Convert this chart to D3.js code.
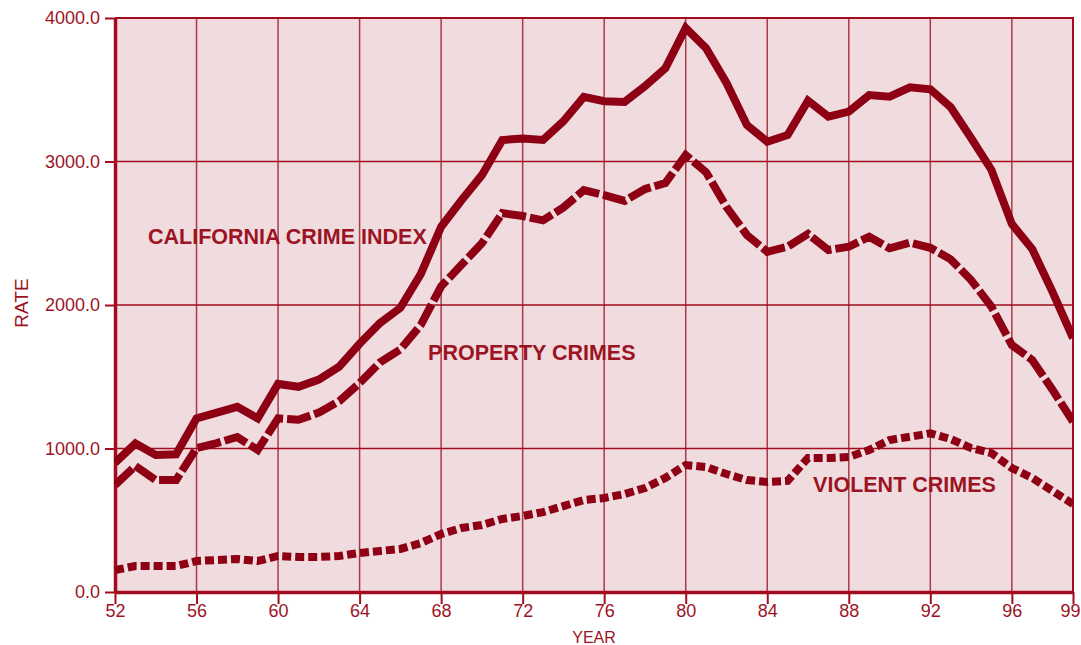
<!DOCTYPE html>
<html>
<head>
<meta charset="utf-8">
<script src="https://cdn.jsdelivr.net/npm/d3@7"></script>
<style>
  body { margin: 0; background: #fff; }
  svg { display: block; font-family: "Liberation Sans", Arial, sans-serif; }
</style>
</head>
<body>
<svg id="chart" viewBox="0 0 1081 645" width="1081" height="645"></svg>
<script>
// years 1952..1999
const years = d3.range(52, 100);

const crimeIndex = [900, 1035, 955, 960, 1210, 1250, 1290, 1210, 1450, 1430,
  1480, 1570, 1730, 1875, 1980, 2215, 2545, 2730, 2905, 3150,
  3160, 3150, 3280, 3450, 3420, 3415, 3525, 3650, 3930, 3790,
  3547, 3254, 3138, 3185, 3424, 3312, 3347, 3463, 3452, 3517,
  3503, 3378, 3164, 2941, 2564, 2390, 2090, 1770];

const propertyCrimes = [745, 878, 780, 780, 1003, 1038, 1080, 990, 1210, 1200,
  1250, 1330, 1456, 1600, 1690, 1860, 2130, 2280, 2430, 2640,
  2620, 2590, 2680, 2800, 2766, 2725, 2808, 2850, 3045, 2925,
  2683, 2488, 2371, 2406, 2495, 2383, 2406, 2476, 2395, 2434,
  2399, 2318, 2174, 1988, 1721, 1617, 1408, 1187];

const violentCrimes = [153, 181, 181, 181, 216, 223, 230, 216, 251, 244,
  244, 251, 272, 286, 300, 341, 404, 446, 467, 509,
  530, 557, 599, 641, 655, 683, 725, 795, 885, 871,
  822, 780, 767, 774, 934, 934, 940, 990, 1059, 1082,
  1106, 1066, 1003, 968, 864, 795, 704, 613];

const xTicks = [52, 56, 60, 64, 68, 72, 76, 80, 84, 88, 92, 96, 99];
const yTicks = [0, 1000, 2000, 3000, 4000];

const seriesLabels = [
  { text: "CALIFORNIA CRIME INDEX", year: 53.62, value: 2425 },
  { text: "PROPERTY CRIMES", year: 67.36, value: 1617 },
  { text: "VIOLENT CRIMES", year: 86.25, value: 697 }
];

const red = "#8e0013";
const textRed = "#9c1424";

const svg = d3.select("#chart");
const margin = { left: 115, right: 8, top: 18, bottom: 53 };
const W = 1081, H = 645;

const x = d3.scaleLinear().domain([52, 99]).range([margin.left, W - margin.right]);
const y = d3.scaleLinear().domain([0, 4000]).range([H - margin.bottom, margin.top]);

// plot background
svg.append("rect")
  .attr("x", x(52)).attr("y", y(4000))
  .attr("width", x(99) - x(52)).attr("height", y(0) - y(4000))
  .attr("fill", "#f0dcde");

// grid
svg.append("g")
  .selectAll("line")
  .data(xTicks.slice(1, -1))
  .join("line")
  .attr("x1", d => x(d)).attr("x2", d => x(d))
  .attr("y1", y(0)).attr("y2", y(4000))
  .attr("stroke", "#aa3a4a").attr("stroke-width", 1.5);

svg.append("g")
  .selectAll("line")
  .data(yTicks.slice(1, -1))
  .join("line")
  .attr("x1", x(52)).attr("x2", x(99))
  .attr("y1", d => y(d)).attr("y2", d => y(d))
  .attr("stroke", "#a20c1e").attr("stroke-width", 1.5);

// top and right border
svg.append("path")
  .attr("d", `M${x(52)},${y(4000)}H${x(99)}V${y(0)}`)
  .attr("fill", "none").attr("stroke", "#a20c1e").attr("stroke-width", 2);

// axes
const xAxis = svg.append("g")
  .attr("transform", `translate(0,${y(0)})`)
  .call(d3.axisBottom(x).tickValues(xTicks).tickFormat(d => d).tickSize(12).tickSizeOuter(0));
const yAxis = svg.append("g")
  .attr("transform", `translate(${x(52)},0)`)
  .call(d3.axisLeft(y).tickValues(yTicks).tickFormat(d3.format(".1f")).tickSize(10).tickSizeOuter(0));

[xAxis, yAxis].forEach(a => {
  a.select(".domain").attr("stroke", "#a20c1e").attr("stroke-width", 3.5);
  a.selectAll(".tick line").attr("stroke", "#a20c1e").attr("stroke-width", 2);
  a.selectAll(".tick text").attr("fill", textRed)
    .style("font-size", "18px").style("font-family", "'Liberation Sans', Arial, sans-serif");
});
xAxis.selectAll(".tick text").attr("dy", "0.85em").attr("y", 10);
// keep the last label inside the page
xAxis.selectAll(".tick text").filter(d => d === 99).attr("dx", -3);
yAxis.selectAll(".tick text").attr("x", -15);

// axis titles
svg.append("text")
  .attr("x", x(75.5)).attr("y", 643)
  .attr("text-anchor", "middle").attr("fill", textRed)
  .style("font-size", "16px").text("YEAR");
svg.append("text")
  .attr("transform", `translate(28,${y(2000) - 2}) rotate(-90)`)
  .attr("text-anchor", "middle").attr("fill", textRed)
  .style("font-size", "19px").text("RATE");

// lines
const line = d3.line().x((d, i) => x(years[i])).y(d => y(d));

svg.append("clipPath").attr("id", "plotclip")
  .append("rect")
  .attr("x", x(52) - 1).attr("y", 0)
  .attr("width", x(99) - x(52) + 2).attr("height", y(0) + 1);

const lines = svg.append("g").attr("clip-path", "url(#plotclip)");

lines.append("path")
  .datum(violentCrimes)
  .attr("d", line)
  .attr("fill", "none").attr("stroke", red)
  .attr("stroke-width", 8).attr("stroke-dasharray", "9 4");

lines.append("path")
  .datum(propertyCrimes)
  .attr("d", line)
  .attr("fill", "none").attr("stroke", red)
  .attr("stroke-width", 8).attr("stroke-dasharray", "24 4")
  .attr("stroke-linejoin", "miter");

lines.append("path")
  .datum(crimeIndex)
  .attr("d", line)
  .attr("fill", "none").attr("stroke", red)
  .attr("stroke-width", 8).attr("stroke-linejoin", "miter");

// series labels
svg.append("g")
  .selectAll("text")
  .data(seriesLabels)
  .join("text")
  .attr("x", d => x(d.year)).attr("y", d => y(d.value))
  .attr("fill", textRed)
  .style("font-size", "21.5px").style("font-weight", "bold")
  .text(d => d.text);
</script>
</body>
</html>
